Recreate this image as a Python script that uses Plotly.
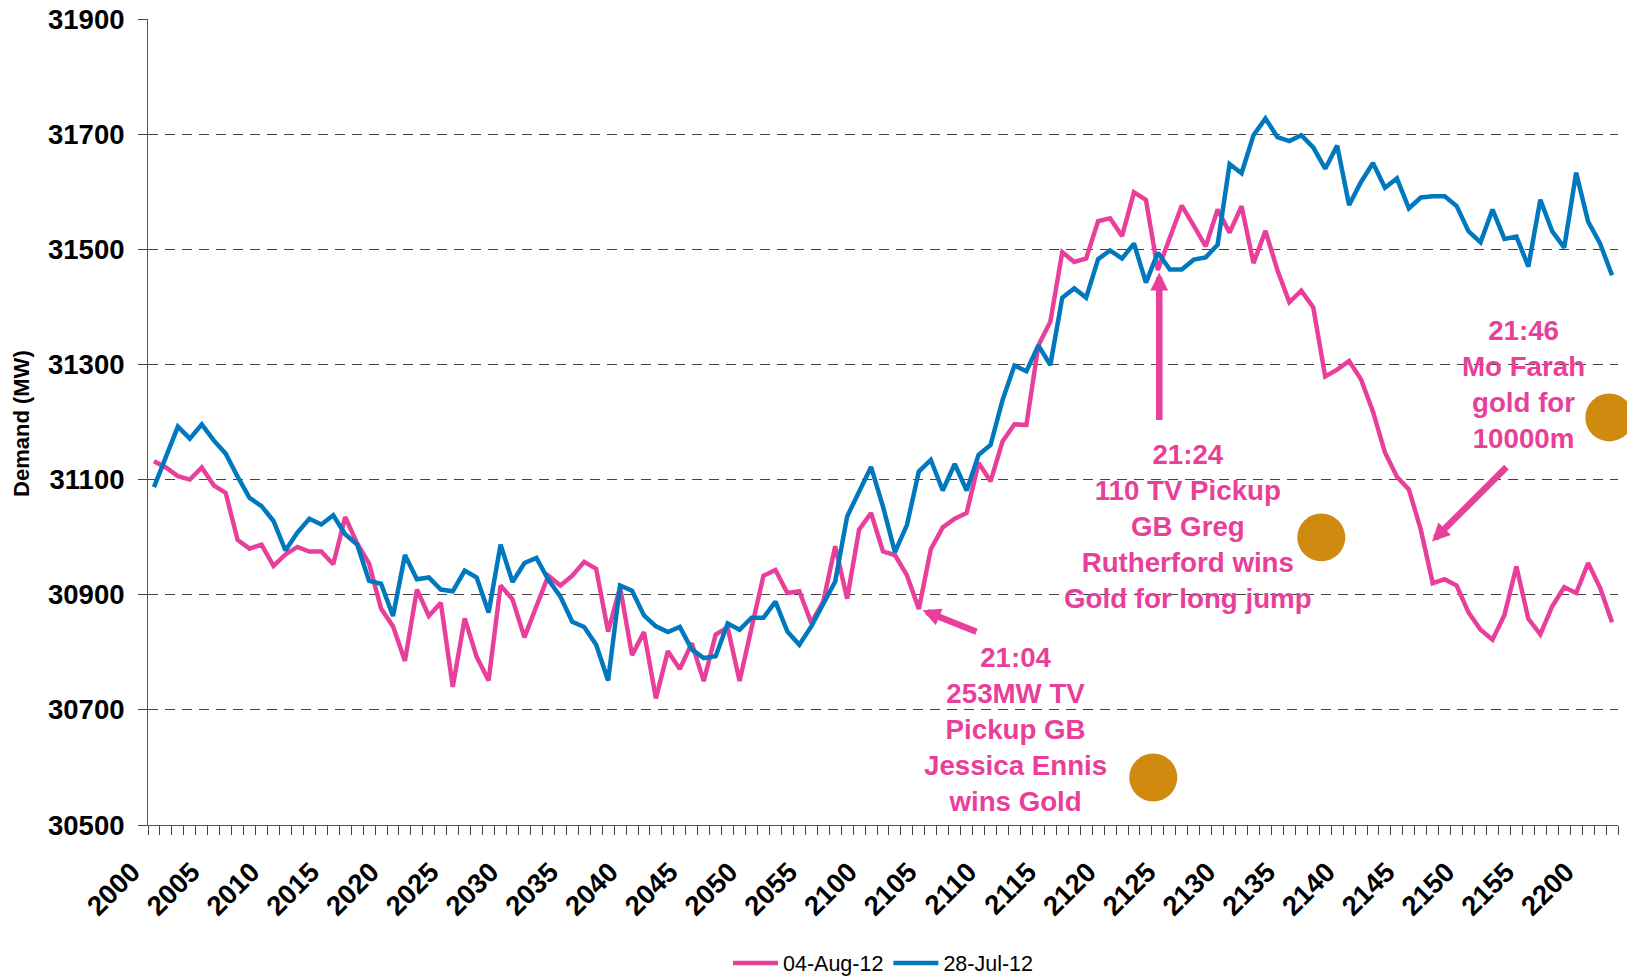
import plotly.graph_objects as go

categories = [f"{h}{m:02d}" for h in (20, 21) for m in range(60)] + ["2200", "2201", "2202"]
tick_labels = [c if i % 5 == 0 else "" for i, c in enumerate(categories)]

aug_04 = [31132,31121,31106,31100,31121,31090,31077,30995,30980,30987,
          30950,30970,30983,30975,30975,30953,31035,30989,30954,30876,
          30845,30785,30909,30863,30886,30740,30859,30792,30751,30916,
          30892,30826,30880,30933,30916,30933,30957,30945,30836,30913,
          30795,30835,30720,30802,30771,30816,30750,30831,30843,30750,
          30842,30933,30943,30903,30906,30851,30888,30984,30893,31013,
          31042,30975,30969,30934,30875,30979,31017,31032,31042,31129,
          31097,31166,31196,31195,31333,31374,31495,31478,31484,31549,
          31554,31523,31599,31586,31464,31521,31576,31541,31505,31569,
          31529,31575,31476,31532,31464,31408,31428,31399,31279,31291,
          31306,31274,31218,31147,31105,31083,31013,30920,30927,30916,
          30869,30839,30822,30865,30949,30858,30831,30880,30913,30903,
          30955,30912,30852]
jul_28 = [31087,31142,31192,31171,31196,31168,31145,31105,31068,31054,
          31028,30977,31008,31032,31022,31038,31005,30987,30924,30919,
          30863,30969,30927,30930,30909,30906,30942,30930,30869,30987,
          30922,30955,30964,30926,30897,30853,30844,30813,30751,30916,
          30907,30864,30845,30835,30844,30805,30790,30793,30850,30839,
          30860,30860,30888,30836,30813,30845,30883,30923,31036,31078,
          31122,31053,30974,31021,31114,31134,31081,31127,31081,31143,
          31160,31238,31298,31288,31333,31299,31416,31432,31416,31483,
          31498,31484,31510,31442,31494,31465,31465,31482,31486,31508,
          31648,31632,31698,31727,31695,31688,31698,31677,31640,31680,
          31577,31617,31650,31607,31623,31571,31590,31592,31592,31575,
          31531,31512,31569,31518,31522,31470,31586,31531,31503,31633,
          31548,31510,31455]
y_ticks = list(range(30500, 32000, 200))

PINK = "#E8409A"
BLUE = "#0078BE"
GOLD = "#D08A10"
W, H = 1627, 976
L, R, T, B = 147.8, 1617.7, 19.0, 825.5
px = lambda x: (x - L) / (R - L)
py = lambda y: (B - y) / (B - T)

fig = go.Figure()
fig.add_trace(go.Scatter(x=categories, y=aug_04, name="04-Aug-12", mode="lines",
                         line=dict(color=PINK, width=4.5)))
fig.add_trace(go.Scatter(x=categories, y=jul_28, name="28-Jul-12", mode="lines",
                         line=dict(color=BLUE, width=4.5)))

notes = [
    ("21:04<br>253MW TV<br>Pickup GB<br>Jessica Ennis<br>wins Gold", 1015, 730),
    ("21:24<br>110 TV Pickup<br>GB Greg<br>Rutherford wins<br>Gold for long jump", 1188, 526.5),
    ("21:46<br>Mo Farah<br>gold for<br>10000m", 1523, 385),
]
arrows = [(977.7, 632.7, 922.3, 610.7), (1159, 421.7, 1159, 272.7), (1507.7, 466, 1431.7, 541.7)]
medals = [(1153, 778), (1321, 537.7), (1609, 417.7)]

for text, x, y in notes:
    fig.add_annotation(text=text, xref="paper", yref="paper", x=px(x), y=py(y), showarrow=False,
                       xanchor="center", yanchor="middle", align="center",
                       font=dict(family="Liberation Sans", size=27.7, color=PINK, weight="bold"))
for x0, y0, x1, y1 in arrows:
    fig.add_annotation(text="", xref="paper", yref="paper", x=px(x1), y=py(y1), ax=x0 - x1, ay=y0 - y1,
                       showarrow=True, arrowhead=2, arrowsize=0.55, arrowwidth=6.5, arrowcolor=PINK, standoff=0)
for x, y in medals:
    fig.add_shape(type="circle", xref="paper", yref="paper", x0=px(x - 24), x1=px(x + 24),
                  y0=py(y + 24), y1=py(y - 24), fillcolor=GOLD, line_width=0)
fig.add_annotation(text="Demand (MW)", xref="paper", yref="paper", x=px(22), y=py(424), showarrow=False,
                   textangle=-90, xanchor="center", yanchor="middle",
                   font=dict(family="Liberation Sans", size=22, color="black", weight="bold"))

fig.update_layout(
    width=W, height=H, autosize=False,
    margin=dict(l=L, r=W - R, t=T, b=H - B, pad=0),
    paper_bgcolor="white", plot_bgcolor="white",
    font=dict(family="Liberation Sans", color="black"),
    showlegend=True,
    legend=dict(orientation="h", xref="container", yref="container", xanchor="center", yanchor="middle",
                x=883.5 / W, y=1 - 963 / H,
                itemwidth=45, font=dict(size=21.5, color="black"), bgcolor="rgba(0,0,0,0)",
                traceorder="normal"),
    xaxis=dict(type="category", range=[-0.5, 122.5], tickmode="array", tickvals=categories,
               ticktext=tick_labels, tickson="boundaries", ticks="outside", ticklen=9, tickwidth=1,
               tickcolor="#444", showline=True, linecolor="#555", linewidth=1, showgrid=False,
               automargin=False, tickangle=-45, ticklabelstandoff=19, ticklabelshift=-22,
               tickfont=dict(size=27.5, weight="bold", color="black"), zeroline=False),
    yaxis=dict(range=[30500, 31900], tickvals=y_ticks, tickformat="d", ticks="outside", ticklen=9, tickwidth=1,
               tickcolor="#444", showline=True, linecolor="#555", linewidth=1, automargin=False,
               showgrid=True, gridcolor="#444", gridwidth=1, griddash="10px,7px", zeroline=False,
               ticklabelstandoff=8,
               tickfont=dict(size=27.5, weight="bold", color="black")),
)

fig.write_html("out.html", config=dict(displayModeBar=False),
               post_script="document.body.style.margin='0';document.body.style.overflow='hidden';")
